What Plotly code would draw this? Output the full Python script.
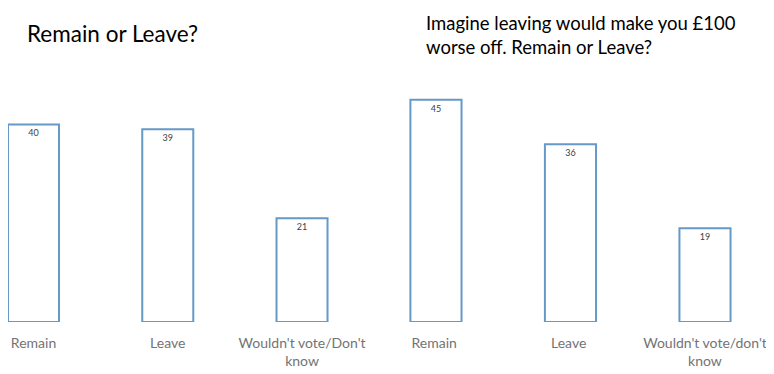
import plotly.graph_objects as go
from plotly.subplots import make_subplots

categories_1 = ["Remain", "Leave", "Wouldn't vote/Don't<br>know"]
values_1 = [40, 39, 21]
categories_2 = ["Remain ", "Leave ", "Wouldn't vote/don't<br>know"]
values_2 = [45, 36, 19]
title_1 = "Remain or Leave?"
title_2 = "Imagine leaving would make you £100<br>worse off. Remain or Leave?"

# The page body has an 8px default margin, so the figure is 8px smaller
W, H = 766, 366
split = 379 / W

fig = make_subplots(rows=1, cols=2, horizontal_spacing=0)

bar_style = dict(
    marker=dict(color="white", line=dict(color="#6699c8", width=2)),
    width=0.38,
    textposition="inside",
    insidetextanchor="end",
    textfont=dict(size=9, color="#404040", family="Lato"),
    showlegend=False,
    hoverinfo="skip",
)
fig.add_trace(go.Bar(x=categories_1, y=values_1, text=[str(v) for v in values_1], **bar_style), row=1, col=1)
fig.add_trace(go.Bar(x=categories_2, y=values_2, text=[str(v) for v in values_2], **bar_style), row=1, col=2)

axis_x = dict(showgrid=False, zeroline=False, showline=False, ticks="", automargin=False,
              ticklabelstandoff=11,
              tickfont=dict(size=14, color="#737373", family="Lato"))
fig.update_xaxes(**axis_x)
fig.update_xaxes(domain=[0, split], range=[-0.19, 2.633], row=1, col=1)
fig.update_xaxes(domain=[split, 1], range=[-0.364, 2.513], row=1, col=2)
fig.update_yaxes(range=[0, 50], visible=False, showgrid=False, automargin=False)

fig.add_annotation(text=title_1, xref="paper", yref="paper", x=17/W, y=1.166,
                   xanchor="left", yanchor="middle", showarrow=False, align="left",
                   font=dict(size=22.5, color="black", family="Lato"))
fig.add_annotation(text=title_2, xref="paper", yref="paper", x=416/W, y=1.162,
                   xanchor="left", yanchor="middle", showarrow=False, align="left",
                   font=dict(size=18.5, color="black", family="Lato"))

fig.update_layout(
    width=W, height=H,
    margin=dict(l=0, r=0, t=67, b=52, autoexpand=False),
    plot_bgcolor="white", paper_bgcolor="white",
)
fig.write_html("out.html")
